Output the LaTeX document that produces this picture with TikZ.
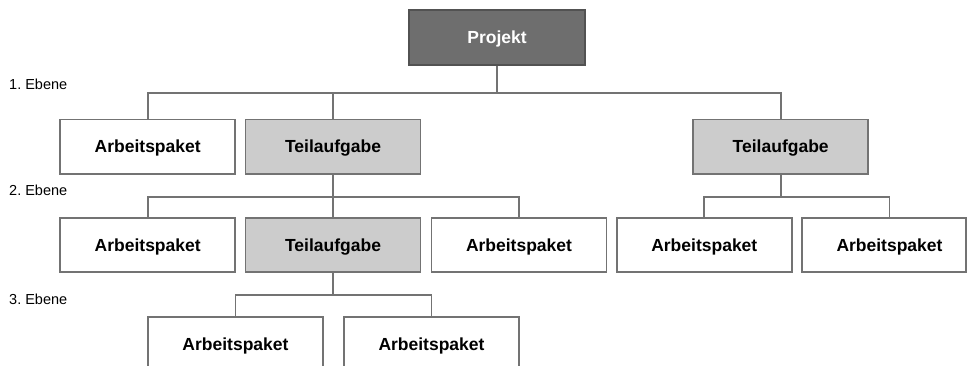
\documentclass[tikz,border=0pt]{standalone}
\usepackage{fontspec}
\setmainfont{Liberation Sans}
\frenchspacing
\usetikzlibrary{calc}
\definecolor{edgegray}{HTML}{737373}
\definecolor{projfill}{HTML}{6E6E6E}
\definecolor{projedge}{HTML}{525252}
\definecolor{taskfill}{HTML}{CCCCCC}

\begin{document}
\begin{tikzpicture}[x=1pt,y=-1pt,
  box/.style={draw=edgegray, line width=1.8pt, minimum width=175pt,
    minimum height=54.5pt, inner sep=0pt,
    font=\bfseries\fontsize{17.5}{20}\selectfont,
    text height=12.5pt, text depth=0pt},
  package/.style={box, fill=white},
  task/.style={box, fill=taskfill},
  root/.style={box, fill=projfill, draw=projedge, text=white, minimum width=176pt},
  link/.style={draw=edgegray, line width=1.8pt},
  level/.style={anchor=base west, inner sep=0pt, font=\fontsize{14.5}{18}\selectfont}
]
\useasboundingbox (0,0) rectangle (967,366);

% level captions
\node[level] (lev1) at (9,90)  {1. Ebene};
\node[level] (lev2) at (9,196) {2. Ebene};
\node[level] (lev3) at (9,305) {3. Ebene};

% bus heights of the elbow connectors
\coordinate (bus1) at (0,92.7);
\coordinate (bus2) at (0,197);
\coordinate (bus3) at (0,295);

% root
\node[root] (proj) at (497,37.5) {Projekt};

% first level
\node[package] (ap1) at (147.7,146.7) {Arbeitspaket};
\node[task]    (ta1) at (333,146.7)   {Teilaufgabe};
\node[task]    (ta2) at (780.7,146.7) {Teilaufgabe};

% second level
\node[package] (ap2) at (147.7,245) {Arbeitspaket};
\node[task]    (ta3) at (333,245)   {Teilaufgabe};
\node[package] (ap3) at (519,245)   {Arbeitspaket};
\node[package] (ap4) at (704.3,245) {Arbeitspaket};
\node[package, minimum width=164pt,
  label={[font=\bfseries\fontsize{17.5}{20}\selectfont, text height=12.5pt,
    text depth=0pt, inner sep=0pt, xshift=5.5pt]center:Arbeitspaket}]
  (ap5) at (884,245) {};
\coordinate (ap5top) at ($(ap5.north)+(5.5,0)$);

% third level
\node[package] (ap6) at (235.5,344.3) {Arbeitspaket};
\node[package] (ap7) at (431.5,344.3) {Arbeitspaket};

% connectors
\draw[link] (proj.south) -- (proj.south |- bus1) -| (ap1.north);
\draw[link] (proj.south |- bus1) -| (ta1.north);
\draw[link] (proj.south |- bus1) -| (ta2.north);

\draw[link] (ta1.south) -- (ta1.south |- bus2) -| (ap2.north);
\draw[link] (ta1.south |- bus2) -- (ta3.north);
\draw[link] (ta1.south |- bus2) -| (ap3.north);

\draw[link] (ta2.south) -- (ta2.south |- bus2) -| (ap4.north);
\draw[link] (ta2.south |- bus2) -| (ap5top);

\draw[link] (ta3.south) -- (ta3.south |- bus3) -| (ap6.north);
\draw[link] (ta3.south |- bus3) -| (ap7.north);
\end{tikzpicture}
\end{document}
